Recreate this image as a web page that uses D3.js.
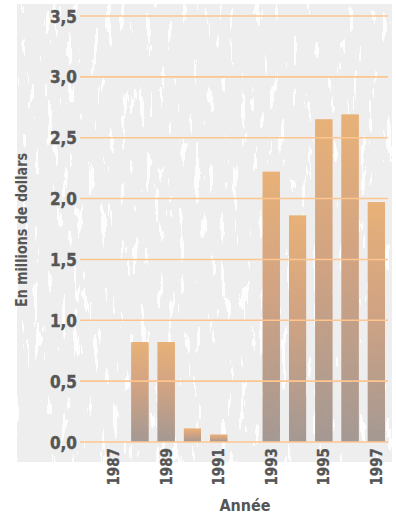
<!DOCTYPE html>
<html>
<head>
<meta charset="utf-8">
<script src="https://cdn.jsdelivr.net/npm/d3@7"></script>
<style>
  html, body { margin: 0; padding: 0; background: #ffffff; }
  svg { display: block; }
  text { font-family: "DejaVu Sans Condensed", "DejaVu Sans", sans-serif; font-weight: bold; fill: #555555; }
</style>
</head>
<body>
<svg id="chart" width="396" height="516"></svg>
<script>
// Annual amounts, in millions of dollars
const years = [1987, 1988, 1989, 1990, 1991, 1992, 1993, 1994, 1995, 1996, 1997];
const amounts = [0, 0.82, 0.82, 0.11, 0.06, 0, 2.22, 1.86, 2.65, 2.69, 1.97];
const yTicks = [0, 0.5, 1.0, 1.5, 2.0, 2.5, 3.0, 3.5];
const xTickYears = [1987, 1989, 1991, 1993, 1995, 1997];
const yTitle = "En millions de dollars";
const xTitle = "Année";

const svg = d3.select("#chart");
const defs = svg.append("defs");

// Bar fill: warm orange at the top fading to a greyish mauve at the base
const grad = defs.append("linearGradient")
  .attr("id", "barFill").attr("x1", 0).attr("y1", 0).attr("x2", 0).attr("y2", 1);
grad.append("stop").attr("offset", "0%").attr("stop-color", "#ebb070");
grad.append("stop").attr("offset", "45%").attr("stop-color", "#d2a17d");
grad.append("stop").attr("offset", "100%").attr("stop-color", "#a2958f");

// Streaky paper texture for the background panel
const f = defs.append("filter").attr("id", "streaks")
  .attr("x", 0).attr("y", 0).attr("width", 1).attr("height", 1);
f.append("feTurbulence").attr("type", "fractalNoise")
  .attr("baseFrequency", "0.15 0.025").attr("numOctaves", 3).attr("seed", 7).attr("result", "noise");
f.append("feColorMatrix").attr("in", "noise").attr("type", "matrix")
  .attr("values", "0 0 0 0 1  0 0 0 0 1  0 0 0 0 1  1 0 0 0 0").attr("result", "a");
const ct = f.append("feComponentTransfer").attr("in", "a");
ct.append("feFuncA").attr("type", "discrete").attr("tableValues", "0 0 0 0 0 0 1 1 1");

// Fine grain for the bars
const g2 = defs.append("filter").attr("id", "grain")
  .attr("x", 0).attr("y", 0).attr("width", 1).attr("height", 1);
g2.append("feTurbulence").attr("type", "fractalNoise")
  .attr("baseFrequency", "1.2").attr("numOctaves", 1).attr("seed", 2).attr("result", "n");
g2.append("feColorMatrix").attr("in", "n").attr("type", "matrix")
  .attr("values", "0 0 0 0 0.5  0 0 0 0 0.5  0 0 0 0 0.5  0 0 0 0.35 -0.1").attr("result", "nn");
g2.append("feComposite").attr("in", "nn").attr("in2", "SourceGraphic").attr("operator", "atop").attr("result", "c");
g2.append("feMerge").call(m => { m.append("feMergeNode").attr("in", "SourceGraphic"); m.append("feMergeNode").attr("in", "c"); });

// Panel
const panel = { x: 17, y: 4, w: 375, h: 458 };
svg.append("rect").attr("x", panel.x).attr("y", panel.y).attr("width", panel.w).attr("height", panel.h)
  .attr("fill", "#eeeeee");
svg.append("rect").attr("x", panel.x).attr("y", panel.y).attr("width", panel.w).attr("height", panel.h)
  .attr("fill", "#ffffff").attr("filter", "url(#streaks)").attr("opacity", 0.9);

// Scales
const x = d3.scaleBand().domain(years).range([100.5, 389.5]).paddingInner(0.35).paddingOuter(0.175);
const y = d3.scaleLinear().domain([0, 3.5]).range([442, 16]);
const gridX0 = 80, gridX1 = 388;

// Bars
svg.append("g").selectAll("rect").data(years.map((yr, i) => ({ yr, v: amounts[i] })).filter(d => d.v > 0))
  .join("rect")
  .attr("x", d => x(d.yr))
  .attr("y", d => y(d.v))
  .attr("width", x.bandwidth())
  .attr("height", d => y(0) - y(d.v))
  .attr("fill", "url(#barFill)")
  .attr("filter", "url(#grain)");

// Gridlines, drawn above the bars
svg.append("g").selectAll("line").data(yTicks).join("line")
  .attr("x1", gridX0).attr("x2", gridX1)
  .attr("y1", d => y(d)).attr("y2", d => y(d))
  .attr("stroke", "#fdc690").attr("stroke-width", 1.6);

// Y axis labels
const yAxis = d3.axisLeft(y).tickValues(yTicks).tickSize(0).tickPadding(0)
  .tickFormat(d => d3.format(".1f")(d).replace(".", ","));
const ya = svg.append("g").attr("transform", "translate(77,0)").call(yAxis);
ya.select(".domain").remove();
ya.selectAll("text").attr("font-size", 17).attr("font-family", null).attr("fill", "#555555")
  .attr("dy", "0.36em").attr("stroke", "#555555").attr("stroke-width", 0.4);

// X axis labels, rotated
const xAxis = d3.axisBottom(x).tickValues(xTickYears).tickSize(0).tickFormat(d => String(d));
const xa = svg.append("g").attr("transform", "translate(0,448)").call(xAxis);
xa.select(".domain").remove();
xa.selectAll("text")
  .attr("font-size", 15).attr("font-family", null).attr("fill", "#555555")
  .attr("stroke", "#555555").attr("stroke-width", 0.3)
  .attr("text-anchor", "end").attr("dy", "0.36em").attr("y", 0).attr("x", 0)
  .attr("transform", "rotate(-90)");

// Axis titles
svg.append("text").attr("transform", "translate(27,230) rotate(-90)")
  .attr("text-anchor", "middle").attr("font-size", 15)
  .attr("textLength", 154).attr("lengthAdjust", "spacingAndGlyphs")
  .text(yTitle);
svg.append("text").attr("x", 245).attr("y", 511).attr("text-anchor", "middle")
  .attr("font-size", 16).text(xTitle);
</script>
</body>
</html>
